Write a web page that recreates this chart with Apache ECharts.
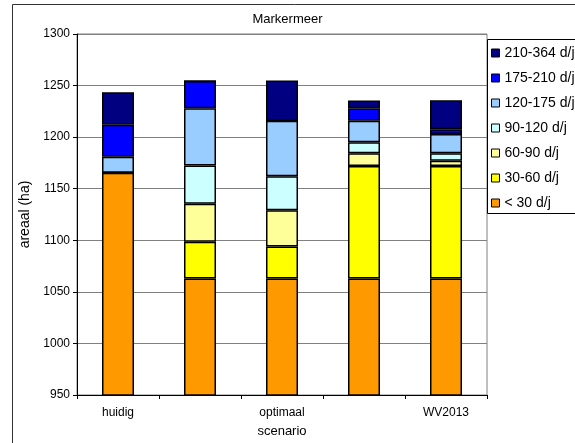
<!DOCTYPE html>
<html>
<head>
<meta charset="utf-8">
<script src="https://cdn.jsdelivr.net/npm/echarts@6/dist/echarts.min.js"></script>
<style>
  html, body { margin: 0; padding: 0; background: #fff; }
  #chart { width: 575px; height: 443px; }
</style>
</head>
<body>
<div id="chart"></div>
<script>
// scenario's (only every other one is labelled)
const categories = ['huidig', '', 'optimaal', '', 'WV2013'];
const yTicks = [950, 1000, 1050, 1100, 1150, 1200, 1250, 1300];

// areaal (ha) per duurklasse
const lt30 = [1165.5, 1063, 1063, 1063, 1063];
const d30_60 = [0, 35.5, 31, 109, 109];
const d60_90 = [0, 37, 35, 12.5, 5];
const d90_120 = [0, 37, 33, 10.5, 7.5];
const d120_175 = [15.5, 55.5, 54, 21, 18.5];
const d175_210 = [31, 26.5, 0, 12, 4.7];
const d210_364 = [31.5, 0, 39, 7.5, 28];

const classNames = ['< 30 d/j', '30-60 d/j', '60-90 d/j', '90-120 d/j', '120-175 d/j', '175-210 d/j', '210-364 d/j'];
const classValues = [lt30, d30_60, d60_90, d90_120, d120_175, d175_210, d210_364];
const classColors = ['#FF9900', '#FFFF00', '#FFFF99', '#CCFFFF', '#99CCFF', '#0000FF', '#000080'];

const font = '"Liberation Sans", Arial, sans-serif';

let chart = echarts.init(document.getElementById('chart'));

let seriesList = classNames.map((name, i) => ({
  name: name,
  type: 'bar',
  stack: 'areaal',
  barWidth: 32,
  data: classValues[i],
  itemStyle: {
    color: classColors[i],
    borderColor: '#000',
    borderWidth: 1.5
  },
  emphasis: { disabled: true },
  animation: false
}));

let option = {
  backgroundColor: '#fff',
  animation: false,
  textStyle: { fontFamily: font },
  graphic: [{
    // chart frame, runs off the right and bottom edge
    type: 'rect',
    shape: { x: 12.5, y: 4.5, width: 700, height: 600 },
    style: { fill: 'none', stroke: '#333', lineWidth: 1 },
    silent: true,
    z: -10
  }, {
    // legend frame, runs off the right edge
    type: 'rect',
    shape: { x: 487.5, y: 39.5, width: 200, height: 174 },
    style: { fill: '#fff', stroke: '#000', lineWidth: 1 },
    silent: true,
    z: 1
  }, {
    type: 'text',
    left: 'center',
    top: 13,
    style: {
      text: 'Markermeer',
      font: '13px ' + font,
      fill: '#000'
    }
  }],
  legend: {
    orient: 'vertical',
    left: 487,
    top: 39,
    z: 5,
    data: classNames.slice().reverse(),
    icon: 'rect',
    itemWidth: 8,
    itemHeight: 8,
    itemGap: 11,
    padding: [7, 4, 8, 4],
    textStyle: { fontSize: 14, color: '#000', fontFamily: font },
    selectedMode: false,
    itemStyle: { borderColor: '#000', borderWidth: 1 }
  },
  grid: {
    left: 77,
    right: 88,
    top: 34,
    bottom: 46,
    show: true,
    borderColor: '#808080',
    borderWidth: 1
  },
  xAxis: {
    type: 'category',
    data: categories,
    name: 'scenario',
    nameLocation: 'middle',
    nameGap: 30,
    nameTextStyle: { fontSize: 13, color: '#000', fontFamily: font },
    axisLine: { lineStyle: { color: '#000' } },
    axisTick: { show: true, length: 4, interval: 0, lineStyle: { color: '#000' } },
    axisLabel: { interval: 0, color: '#000', fontSize: 12, margin: 12, fontFamily: font }
  },
  yAxis: {
    type: 'value',
    min: yTicks[0],
    max: yTicks[yTicks.length - 1],
    interval: 50,
    name: 'areaal (ha)',
    nameLocation: 'middle',
    nameGap: 30,
    nameRotate: 90,
    nameTextStyle: { fontSize: 14, color: '#000', fontFamily: font },
    axisLine: { show: true, lineStyle: { color: '#000' } },
    axisTick: { show: true, length: 4, lineStyle: { color: '#000' } },
    axisLabel: {
      color: '#000', fontSize: 12, margin: 7, fontFamily: font,
      formatter: function (v) { return String(v); }
    },
    splitLine: { show: true, lineStyle: { color: '#808080', width: 1 } }
  },
  series: seriesList
};

chart.setOption(option);
</script>
</body>
</html>
